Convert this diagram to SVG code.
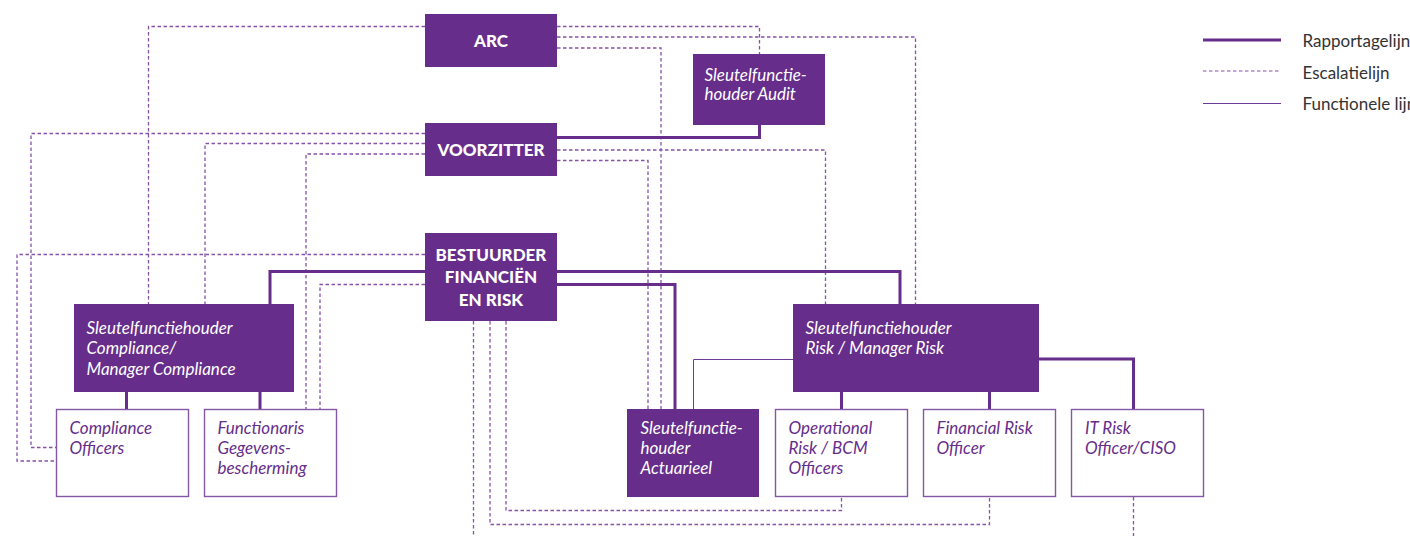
<svg xmlns="http://www.w3.org/2000/svg" width="1410" height="536" viewBox="0 0 1410 536">
<style>
.fill{fill:#662d8b}
.out{fill:#fff;stroke:#8457a6;stroke-width:1.4}
.bt{font-family:Lato,"Open Sans",sans-serif;font-weight:900;font-size:17px;fill:#fff;text-anchor:middle}
.it{font-family:Lato,"Open Sans",sans-serif;font-style:italic;font-size:17px;fill:#fff}
.ip{font-family:Lato,"Open Sans",sans-serif;font-style:italic;font-size:17px;fill:#662d8b}
.lg{font-family:Lato,"Open Sans",sans-serif;font-size:17px;fill:#333}
.rep{fill:none;stroke:#662d8b;stroke-width:3}
.esc{fill:none;stroke:#8552aa;stroke-width:1.3;stroke-dasharray:3.5 2.5}
.fun{fill:none;stroke:#6f3a95;stroke-width:1}
</style>
<g id="connectors">
<path class="esc" d="M425,26.5 H148.5 V304"/>
<path class="esc" d="M425,133.5 H31 V447.5 H56.5"/>
<path class="esc" d="M425,143.5 H205 V304"/>
<path class="esc" d="M425,154 H306 V409"/>
<path class="esc" d="M425,254.5 H17 V461 H56.5"/>
<path class="esc" d="M425,284.5 H320 V409"/>
<path class="esc" d="M557,26.5 H759.5 V54"/>
<path class="esc" d="M557,37 H915.5 V304"/>
<path class="esc" d="M557,48 H661 V409"/>
<path class="esc" d="M557,150 H825.5 V304"/>
<path class="esc" d="M557,160.5 H648 V409"/>
<path class="esc" d="M473.5,321 V536"/>
<path class="esc" d="M490,321 V524.5 H989.5 V497"/>
<path class="esc" d="M506,321 V510.5 H841.5 V497"/>
<path class="esc" d="M1133.5,497 V536"/>
<path class="rep" d="M557,137.5 H759.5 V125"/>
<path class="rep" d="M425,271.5 H270 V304"/>
<path class="rep" d="M557,271.5 H900 V304"/>
<path class="rep" d="M557,284.5 H675 V409"/>
<path class="rep" d="M126.5,392 V409"/>
<path class="rep" d="M260,392 V409"/>
<path class="rep" d="M841.5,392 V409"/>
<path class="rep" d="M989.5,392 V409"/>
<path class="rep" d="M1039,359 H1133.5 V409"/>
<path class="fun" d="M793,359.5 H693.5 V409"/>
</g>
<g id="arc"><rect class="fill" x="425" y="14" width="132" height="53"/><text class="bt" x="491" y="47">ARC</text></g>
<g id="voorzitter"><rect class="fill" x="425" y="123" width="132" height="53"/><text class="bt" x="491" y="156">VOORZITTER</text></g>
<g id="bestuurder"><rect class="fill" x="425" y="233" width="132" height="88"/><text class="bt" x="491" y="261">BESTUURDER</text><text class="bt" x="491" y="283">FINANCIËN</text><text class="bt" x="491" y="306">EN RISK</text></g>
<g id="audit"><rect class="fill" x="693" y="54" width="132" height="71"/><text class="it" x="704.5" y="81">Sleutelfunctie-</text><text class="it" x="704.5" y="100">houder Audit</text></g>
<g id="compliance"><rect class="fill" x="74" y="304" width="220" height="88"/><text class="it" x="86.5" y="333.5">Sleutelfunctiehouder</text><text class="it" x="86.5" y="354">Compliance/</text><text class="it" x="86.5" y="374.5">Manager Compliance</text></g>
<g id="risk"><rect class="fill" x="793" y="304" width="246" height="88"/><text class="it" x="805.5" y="333.5">Sleutelfunctiehouder</text><text class="it" x="805.5" y="354">Risk / Manager Risk</text></g>
<g id="compliance-officers"><rect class="out" x="56.5" y="409.5" width="132" height="87"/><text class="ip" x="69.5" y="434">Compliance</text><text class="ip" x="69.5" y="454">Officers</text></g>
<g id="functionaris"><rect class="out" x="204.5" y="409.5" width="132" height="87"/><text class="ip" x="217.5" y="434">Functionaris</text><text class="ip" x="217.5" y="454">Gegevens-</text><text class="ip" x="217.5" y="474">bescherming</text></g>
<g id="actuarieel"><rect class="fill" x="627" y="409" width="132" height="88"/><text class="it" x="640.5" y="434">Sleutelfunctie-</text><text class="it" x="640.5" y="454">houder</text><text class="it" x="640.5" y="474">Actuarieel</text></g>
<g id="operational"><rect class="out" x="775.5" y="409.5" width="132" height="87"/><text class="ip" x="788.5" y="434">Operational</text><text class="ip" x="788.5" y="454">Risk / BCM</text><text class="ip" x="788.5" y="474">Officers</text></g>
<g id="financial"><rect class="out" x="923.5" y="409.5" width="132" height="87"/><text class="ip" x="936.5" y="434">Financial Risk</text><text class="ip" x="936.5" y="454">Officer</text></g>
<g id="itrisk"><rect class="out" x="1071.5" y="409.5" width="132" height="87"/><text class="ip" x="1085" y="434">IT Risk</text><text class="ip" x="1085" y="454">Officer/CISO</text></g>
<g id="legend">
<path class="rep" d="M1203,40 H1281"/>
<path fill="none" stroke="#8552aa" stroke-width="1" stroke-dasharray="3.5 2.5" d="M1203,71 H1281"/>
<path class="fun" d="M1203,103.5 H1281"/>
<text class="lg" x="1302.5" y="47">Rapportagelijn</text>
<text class="lg" x="1302.5" y="78.5">Escalatielijn</text>
<text class="lg" x="1302.5" y="110">Functionele lijn</text>
</g>
</svg>
